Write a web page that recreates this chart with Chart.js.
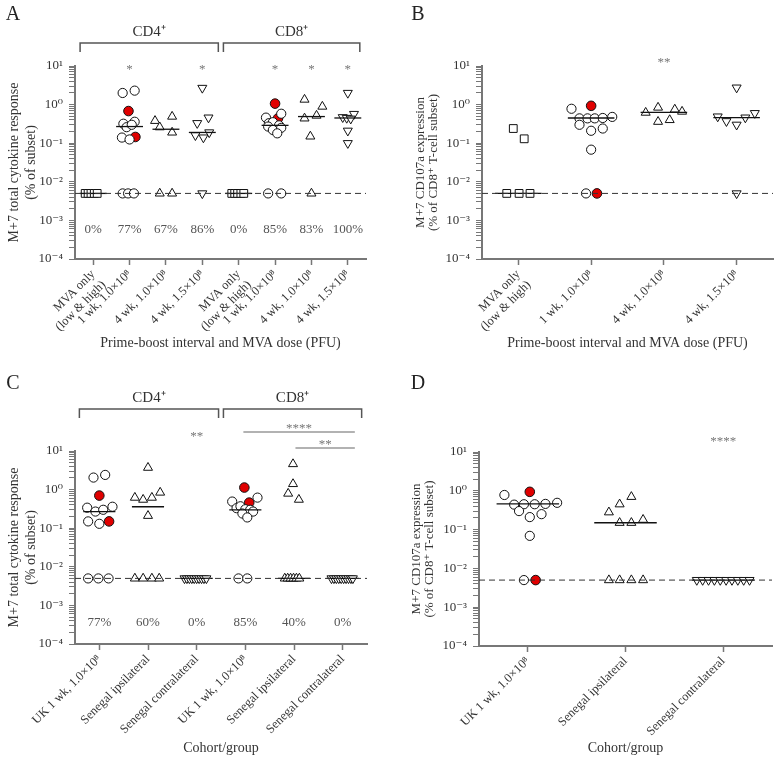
<!DOCTYPE html>
<html>
<head>
<meta charset="utf-8">
<script src="https://cdn.jsdelivr.net/npm/chart.js@4.4.1/dist/chart.umd.min.js"></script>
<style>
  body { margin: 0; background: #fff; }
  #fig { position: relative; width: 781px; height: 759px; }
  canvas { position: absolute; }
</style>
</head>
<body>
<div id="fig">
  <canvas id="cA" width="390" height="354" style="left:0;top:0"></canvas>
  <canvas id="cB" width="391" height="354" style="left:390px;top:0"></canvas>
  <canvas id="cC" width="390" height="389" style="left:0;top:370px"></canvas>
  <canvas id="cD" width="391" height="389" style="left:390px;top:370px"></canvas>
</div>
<script>
// limit of detection, responses below it are plotted here
const LOD = 0.005;

// --- panel A: total cytokine response, CD4+ then CD8+
const catsA = [["MVA only", "(low & high)"], "1 wk, 1.0×10⁸", "4 wk, 1.0×10⁸", "4 wk, 1.5×10⁸",
               ["MVA only", "(low & high)"], "1 wk, 1.0×10⁸", "4 wk, 1.0×10⁸", "4 wk, 1.5×10⁸"];
const shapeA = ['rect', 'circle', 'triangle', 'down', 'rect', 'circle', 'triangle', 'down'];
const pctA = ['0%', '77%', '67%', '86%', '0%', '85%', '83%', '100%'];
const starA = ['', '*', '', '*', '', '*', '*', '*'];
const openYA = [
  [LOD, LOD, LOD, LOD, LOD],
  [2.0, 2.3, 0.32, 0.36, 0.26, 0.30, 0.14, 0.125, LOD, LOD, LOD],
  [0.38, 0.26, 0.49, 0.19, LOD, LOD],
  [2.7, 0.33, 0.46, 0.16, 0.14, 0.19, LOD],
  [LOD, LOD, LOD, LOD, LOD],
  [0.58, 0.46, 0.33, 0.35, 0.29, 0.27, 0.22, 0.25, 0.18, LOD, LOD],
  [1.35, 0.89, 0.44, 0.52, 0.15, LOD],
  [2.0, 0.57, 0.47, 0.45, 0.43, 0.21, 0.10]
];
const openXA = [
  [-0.22, -0.14, -0.06, 0.03, 0.11],
  [-0.19, 0.14, -0.17, 0.14, -0.08, 0.06, -0.21, 0, -0.19, -0.04, 0.12],
  [-0.3, -0.17, 0.17, 0.17, -0.17, 0.17],
  [0, -0.14, 0.17, -0.19, 0.03, 0.19, 0],
  [-0.19, -0.11, -0.03, 0.06, 0.14],
  [0.17, -0.25, -0.17, -0.06, 0.11, -0.19, -0.06, 0.17, 0.06, -0.19, 0.17],
  [-0.19, 0.3, -0.19, 0.14, -0.03, 0],
  [0, 0.17, -0.14, -0.03, 0.08, 0, 0]
];
const redYA = [[], [0.68, 0.145], [], [], [], [1.06, 0.44], [], []];
const redXA = [[], [-0.03, 0.16], [], [], [], [0, 0.08], [], []];
const medA = [LOD, 0.27, 0.23, 0.19, LOD, 0.29, 0.49, 0.45];

// --- panel B: CD107a expression
const catsB = [["MVA only", "(low & high)"], "1 wk, 1.0×10⁸", "4 wk, 1.0×10⁸", "4 wk, 1.5×10⁸"];
const shapeB = ['rect', 'circle', 'triangle', 'down'];
const starB = ['', '', '**', ''];
const openYB = [
  [0.24, 0.13, LOD, LOD, LOD],
  [0.78, 0.44, 0.44, 0.44, 0.45, 0.48, 0.30, 0.24, 0.21, 0.068, LOD],
  [0.62, 0.84, 0.75, 0.66, 0.36, 0.40],
  [2.75, 0.49, 0.37, 0.30, 0.46, 0.60, LOD]
];
const openXB = [
  [-0.07, 0.08, -0.16, 0.01, 0.16],
  [-0.27, -0.16, -0.05, 0.05, 0.16, 0.29, -0.16, 0.16, 0, 0, -0.07],
  [-0.25, -0.08, 0.15, 0.25, -0.08, 0.08],
  [0, -0.26, -0.14, 0, 0.12, 0.25, 0]
];
const redYB = [[], [0.93, LOD], [], []];
const redXB = [[], [0, 0.08], [], []];
const medB = [LOD, 0.45, 0.63, 0.46];

// --- panel C: total cytokine response by cohort
const catsC = ["UK 1 wk, 1.0×10⁸", "Senegal ipsilateral", "Senegal contralateral",
               "UK 1 wk, 1.0×10⁸", "Senegal ipsilateral", "Senegal contralateral"];
const shapeC = ['circle', 'triangle', 'down', 'circle', 'triangle', 'down'];
const pctC = ['77%', '60%', '0%', '85%', '40%', '0%'];
const openYC = [
  [2.05, 2.4, 0.34, 0.27, 0.30, 0.36, 0.15, 0.13, LOD, LOD, LOD],
  [3.7, 0.62, 0.55, 0.62, 0.84, 0.21, LOD, LOD, LOD, LOD],
  [LOD, LOD, LOD, LOD, LOD, LOD, LOD, LOD, LOD, LOD],
  [0.49, 0.62, 0.33, 0.37, 0.31, 0.30, 0.27, 0.24, 0.19, LOD, LOD],
  [4.6, 1.4, 0.79, 0.55, LOD, LOD, LOD, LOD, LOD, LOD],
  [LOD, LOD, LOD, LOD, LOD, LOD, LOD, LOD, LOD, LOD]
];
const openXC = [
  [-0.12, 0.12, -0.25, -0.08, 0.08, 0.27, -0.23, 0, -0.23, -0.02, 0.19],
  [0, -0.27, -0.1, 0.08, 0.25, 0, -0.27, -0.1, 0.08, 0.23],
  [-0.25, -0.2, -0.15, -0.1, -0.05, 0, 0.05, 0.1, 0.15, 0.2],
  [-0.27, 0.25, -0.18, -0.1, 0, 0.1, 0.16, -0.06, 0.04, -0.14, 0.04],
  [-0.02, -0.02, -0.12, 0.1, -0.19, -0.13, -0.07, -0.01, 0.05, 0.11],
  [-0.23, -0.18, -0.13, -0.08, -0.03, 0.02, 0.07, 0.12, 0.17, 0.21]
];
const redYC = [[0.70, 0.15], [], [], [1.13, 0.46], [], []];
const redXC = [[0, 0.2], [], [], [-0.02, 0.08], [], []];
const medC = [0.27, 0.36, LOD, 0.30, LOD, LOD];

// --- panel D: CD107a expression by cohort
const catsD = ["UK 1 wk, 1.0×10⁸", "Senegal ipsilateral", "Senegal contralateral"];
const shapeD = ['circle', 'triangle', 'down'];
const openYD = [
  [0.78, 0.44, 0.45, 0.45, 0.46, 0.49, 0.30, 0.25, 0.21, 0.069, LOD],
  [0.28, 0.45, 0.70, 0.15, 0.15, 0.18, LOD, LOD, LOD, LOD],
  [LOD, LOD, LOD, LOD, LOD, LOD, LOD, LOD, LOD, LOD]
];
const openXD = [
  [-0.24, -0.14, -0.04, 0.07, 0.18, 0.3, -0.09, 0.14, 0.02, 0.02, -0.04],
  [-0.17, -0.06, 0.06, -0.06, 0.06, 0.18, -0.17, -0.06, 0.06, 0.18],
  [-0.27, -0.21, -0.15, -0.09, -0.03, 0.03, 0.09, 0.15, 0.21, 0.27]
];
const redYD = [[0.94, LOD], [], []];
const redXD = [[0.02, 0.08], [], []];
const medD = [0.46, 0.15, LOD];

const cytoTitle = ["M+7 total cytokine response", "(% of subset)"];
const cd107Title = ["M+7 CD107a expression", "(% of CD8⁺ T-cell subset)"];

Chart.defaults.font.family = '"Liberation Serif", "DejaVu Serif", serif';
Chart.defaults.color = '#333';

const SUP = { '-': '⁻', '0': '⁰', '1': '¹', '2': '²', '3': '³', '4': '⁴' };
function decadeLabel(v) {
  const e = Math.round(Math.log10(v));
  if (Math.abs(Math.log10(v) - e) > 1e-6) return '';
  return '10' + String(e).split('').map(c => SUP[c]).join('');
}

function markerStyle(s) {
  if (s === 'rect') return { s: 'rect', r: 0, rad: 5.5 };
  if (s === 'triangle') return { s: 'triangle', r: 0, rad: 5.2 };
  if (s === 'down') return { s: 'triangle', r: 180, rad: 5.2 };
  return { s: 'circle', r: 0, rad: 4.6 };
}

function notesPlugin(p) {
  return {
    id: 'notes',
    afterDraw(chart) {
      const ctx = chart.ctx, xs = chart.scales.x;
      ctx.save();
      ctx.textAlign = 'center';
      ctx.textBaseline = 'middle';
      ctx.fillStyle = '#222';
      ctx.font = '20px "Liberation Serif"';
      ctx.fillText(p.letter, p.letterX, p.letterY);

      // CD4+/CD8+ brackets
      ctx.strokeStyle = '#555';
      ctx.lineWidth = 1.5;
      (p.brackets || []).forEach(b => {
        const x1 = xs.getPixelForValue(b.a), x2 = xs.getPixelForValue(b.b);
        ctx.beginPath();
        ctx.moveTo(x1, p.brY + 9); ctx.lineTo(x1, p.brY); ctx.lineTo(x2, p.brY); ctx.lineTo(x2, p.brY + 9);
        ctx.stroke();
        ctx.fillStyle = '#333';
        ctx.font = '15px "Liberation Serif"';
        ctx.fillText(b.label, (x1 + x2) / 2, p.brY - 11);
      });

      // significance lines
      ctx.lineWidth = 1.2;
      ctx.strokeStyle = '#666';
      (p.sigLines || []).forEach(s => {
        const x1 = xs.getPixelForValue(s.a), x2 = xs.getPixelForValue(s.b);
        ctx.beginPath(); ctx.moveTo(x1, s.y); ctx.lineTo(x2, s.y); ctx.stroke();
        ctx.fillStyle = '#777';
        ctx.font = '13px "Liberation Serif"';
        ctx.fillText(s.text, (x1 + x2) / 2, s.y - 3);
      });

      ctx.fillStyle = '#777';
      ctx.font = '13px "Liberation Serif"';
      (p.stars || []).forEach((s, i) => { if (s) ctx.fillText(s, xs.getPixelForValue(i), p.starY); });

      ctx.fillStyle = '#555';
      ctx.font = '13px "Liberation Serif"';
      (p.pct || []).forEach((s, i) => ctx.fillText(s, xs.getPixelForValue(i), p.pctY));
      ctx.restore();
    }
  };
}

function makeChart(id, p) {
  const n = p.cats.length;
  const datasets = [];
  datasets.push({
    data: [{ x: -0.5, y: LOD }, { x: n - 0.5, y: LOD }], showLine: true,
    borderColor: '#333', borderWidth: 1, borderDash: [6, 4], pointRadius: 0, order: 0
  });
  p.med.forEach((m, i) => datasets.push({
    data: [{ x: i - p.medW, y: m }, { x: i + p.medW, y: m }], showLine: true,
    borderColor: '#111', borderWidth: 1.3, pointRadius: 0, order: 0
  }));
  p.openY.forEach((ys, i) => {
    const st = markerStyle(p.shape[i]);
    datasets.push({
      data: ys.map((y, k) => ({ x: i + p.openX[i][k], y: y })),
      backgroundColor: '#fff', borderColor: '#111', borderWidth: 1,
      pointStyle: st.s, pointRotation: st.r, pointRadius: st.rad, order: 1
    });
    if (p.redY[i].length) datasets.push({
      data: p.redY[i].map((y, k) => ({ x: i + p.redX[i][k], y: y })),
      backgroundColor: '#e00000', borderColor: '#111', borderWidth: 1,
      pointStyle: 'circle', pointRadius: 4.8, order: 1
    });
  });

  new Chart(document.getElementById(id), {
    type: 'scatter',
    data: { datasets: datasets },
    options: {
      responsive: false,
      animation: false,
      devicePixelRatio: 1,
      layout: { padding: { top: p.padT, right: p.padR, left: 0, bottom: 0 } },
      plugins: { legend: { display: false }, tooltip: { enabled: false } },
      scales: {
        x: {
          type: 'linear', min: -0.5, max: n - 0.5,
          afterBuildTicks: s => { s.ticks = p.cats.map((c, i) => ({ value: i })); },
          afterFit: s => { s.height = p.xH; },
          grid: { drawOnChartArea: false, tickLength: 6, color: '#777', tickWidth: 1.5 },
          border: { color: '#777', width: 2 },
          ticks: {
            autoSkip: false, minRotation: 45, maxRotation: 45, padding: 2,
            color: '#333', font: { size: 12.5 }, callback: v => p.cats[v]
          },
          title: { display: true, text: p.xTitle, color: '#333', font: { size: 14 }, padding: { top: 0, bottom: 2 } }
        },
        y: {
          type: 'logarithmic', min: 1e-4, max: 10,
          afterBuildTicks: s => {
            const t = [];
            for (let e = -4; e <= 1; e++) {
              for (let k = 1; k <= 9; k++) {
                const v = k * Math.pow(10, e);
                if (v <= 10.0001) t.push({ value: v, major: k === 1 });
              }
            }
            s.ticks = t;
          },
          afterFit: s => { s.width = p.yW; },
          grid: { drawOnChartArea: false, tickLength: 6, color: '#777' },
          border: { color: '#777', width: 2 },
          ticks: { autoSkip: false, padding: 6, color: '#333', font: { size: 13 }, callback: v => decadeLabel(v) },
          title: { display: true, text: p.yTitle, color: '#333', font: { size: p.yFont, lineHeight: p.yLine }, padding: { top: p.yPad } }
        }
      }
    },
    plugins: [notesPlugin(p)]
  });
}

makeChart('cA', {
  cats: catsA, shape: shapeA, openY: openYA, openX: openXA, redY: redYA, redX: redXA, med: medA, medW: 0.37,
  padT: 66, padR: 24, xH: 95, yW: 75, yFont: 14, yLine: 1.2, yPad: 6,
  xTitle: "Prime-boost interval and MVA dose (PFU)", yTitle: cytoTitle,
  letter: 'A', letterX: 13, letterY: 15,
  brackets: [{ a: -0.36, b: 3.44, label: 'CD4⁺' }, { a: 3.58, b: 7.33, label: 'CD8⁺' }], brY: 43,
  stars: starA, starY: 70, pct: pctA, pctY: 230
});

makeChart('cB', {
  cats: catsB, shape: shapeB, openY: openYB, openX: openXB, redY: redYB, redX: redXB, med: medB, medW: 0.32,
  padT: 66, padR: 8, xH: 95, yW: 92, yFont: 13, yLine: 1.0, yPad: 24,
  xTitle: "Prime-boost interval and MVA dose (PFU)", yTitle: cd107Title,
  letter: 'B', letterX: 28, letterY: 15,
  stars: starB, starY: 63
});

makeChart('cC', {
  cats: catsC, shape: shapeC, openY: openYC, openX: openXC, redY: redYC, redX: redXC, med: medC, medW: 0.33,
  padT: 81, padR: 23, xH: 115, yW: 75, yFont: 14, yLine: 1.2, yPad: 6,
  xTitle: "Cohort/group", yTitle: cytoTitle,
  letter: 'C', letterX: 13, letterY: 14,
  brackets: [{ a: -0.41, b: 2.45, label: 'CD4⁺' }, { a: 2.55, b: 5.39, label: 'CD8⁺' }], brY: 39,
  sigLines: [{ a: 2.96, b: 5.25, y: 62, text: '****' }, { a: 4.03, b: 5.25, y: 78, text: '**' }],
  stars: ['', '', '**', '', '', ''], starY: 67, pct: pctC, pctY: 253
});

makeChart('cD', {
  cats: catsD, shape: shapeD, openY: openYD, openX: openXD, redY: redYD, redX: redXD, med: medD, medW: 0.32,
  padT: 82, padR: 9, xH: 113, yW: 89, yFont: 13, yLine: 1.0, yPad: 20,
  xTitle: "Cohort/group", yTitle: cd107Title,
  letter: 'D', letterX: 28, letterY: 14,
  stars: ['', '', '****'], starY: 72
});
</script>
</body>
</html>
